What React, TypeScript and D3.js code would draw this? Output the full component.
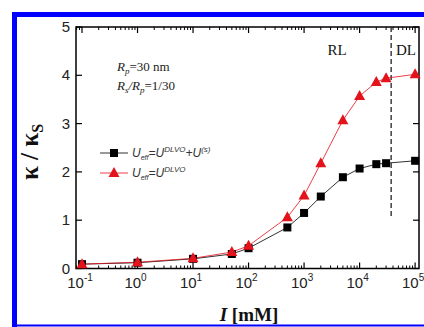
import React from "react";
import * as d3 from "d3";

const ionicStrength = [0.1, 1, 10, 50, 100, 500, 1000, 2000, 5000, 10000, 20000, 30000, 100000];
const kappaWithS = [0.09, 0.12, 0.2, 0.3, 0.42, 0.85, 1.15, 1.49, 1.89, 2.07, 2.16, 2.18, 2.23];
const kappaDLVO = [0.09, 0.13, 0.21, 0.34, 0.47, 1.06, 1.51, 2.18, 3.07, 3.57, 3.86, 3.94, 4.02];
const yTicks = [0, 1, 2, 3, 4, 5];
const xDecades = [-1, 0, 1, 2, 3, 4, 5];
const boundaryI = 37000;

const W = 424;
const H = 327;
const L = 76, R = 419, T = 27, B = 268.5;

export default function App() {
  const x = d3.scaleLog().domain([Math.pow(10, -1.108), Math.pow(10, 5.07)]).range([L, R]);
  const y = d3.scaleLinear().domain([0, 5]).range([B, T]);

  const lineGen = (vals: number[]) =>
    d3.line<number>().x((_, i) => x(ionicStrength[i])).y((v) => y(v))(vals) || "";

  const minorTicks: number[] = [];
  for (let e = -2; e <= 5; e++) {
    for (let m = 2; m <= 9; m++) {
      const v = m * Math.pow(10, e);
      if (x(v) > L + 0.5 && x(v) < R - 0.5) minorTicks.push(v);
    }
  }

  const red = "#e3121b";
  const blue = "#0000ff";

  return (
    <svg width={W} height={H} style={{ position: "absolute", left: 0, top: 0, background: "#fff" }}>
      {/* blue frame */}
      <rect x={12} y={12} width={W - 12} height={5} fill={blue} />
      <rect x={12} y={12} width={5} height={H - 12} fill={blue} />
      <rect x={12} y={324.5} width={W - 12} height={2} fill={blue} />

      {/* axes frame */}
      <rect x={L} y={T} width={R - L} height={B - T} fill="none" stroke="#000" strokeWidth={1.5} />

      {/* y ticks */}
      {yTicks.map((t) => (
        <g key={"y" + t}>
          <line x1={L} x2={L + 6} y1={y(t)} y2={y(t)} stroke="#000" strokeWidth={1.2} />
          <line x1={R} x2={R - 6} y1={y(t)} y2={y(t)} stroke="#000" strokeWidth={1.2} />
          <text x={70} y={y(t) + 5} textAnchor="end" fontFamily="Liberation Sans, Arial, sans-serif" fontSize={15} fill="#222">
            {t}
          </text>
        </g>
      ))}

      {/* x ticks */}
      {xDecades.map((e) => {
        const px = x(Math.pow(10, e));
        return (
          <g key={"x" + e}>
            <line x1={px} x2={px} y1={B} y2={B - 6} stroke="#000" strokeWidth={1.2} />
            <line x1={px} x2={px} y1={T} y2={T + 6} stroke="#000" strokeWidth={1.2} />
            <text x={px - 2} y={288} textAnchor="middle" fontFamily="Liberation Sans, Arial, sans-serif" fontSize={15} fill="#222">
              10
              <tspan fontSize={10} dy={-7}>{e}</tspan>
            </text>
          </g>
        );
      })}
      {minorTicks.map((v, i) => (
        <g key={"m" + i}>
          <line x1={x(v)} x2={x(v)} y1={B} y2={B - 3} stroke="#000" strokeWidth={1} />
          <line x1={x(v)} x2={x(v)} y1={T} y2={T + 3} stroke="#000" strokeWidth={1} />
        </g>
      ))}

      {/* boundary dashed line */}
      <line x1={x(boundaryI)} x2={x(boundaryI)} y1={T} y2={y(1.08)} stroke="#222" strokeWidth={1.3} strokeDasharray="5,3" />
      <text x={337} y={55} textAnchor="middle" fontFamily="Liberation Serif, Times New Roman, serif" fontSize={15} fill="#111">RL</text>
      <text x={396} y={55} fontFamily="Liberation Serif, Times New Roman, serif" fontSize={15} fill="#111">DL</text>

      {/* annotations */}
      <text x={117} y={71} fontFamily="Liberation Serif, Times New Roman, serif" fontSize={13} fill="#222">
        <tspan fontStyle="italic">R</tspan>
        <tspan fontStyle="italic" fontSize={9} dy={3}>p</tspan>
        <tspan dy={-3}>=30 nm</tspan>
      </text>
      <text x={117} y={90} fontFamily="Liberation Serif, Times New Roman, serif" fontSize={13} fill="#222">
        <tspan fontStyle="italic">R</tspan>
        <tspan fontStyle="italic" fontSize={9} dy={3}>s</tspan>
        <tspan fontStyle="italic" dy={-3}>/R</tspan>
        <tspan fontStyle="italic" fontSize={9} dy={3}>p</tspan>
        <tspan dy={-3}>=1/30</tspan>
      </text>

      {/* series lines */}
      <path d={lineGen(kappaWithS)} fill="none" stroke="#333" strokeWidth={1} />
      <path d={lineGen(kappaDLVO)} fill="none" stroke={red} strokeWidth={1} strokeOpacity={0.8} />

      {/* markers */}
      {kappaWithS.map((v, i) => (
        <rect key={"s" + i} x={x(ionicStrength[i]) - 4} y={y(v) - 4} width={8} height={8} fill="#000" />
      ))}
      {kappaDLVO.map((v, i) => {
        const cx = x(ionicStrength[i]);
        const cy = y(v);
        return (
          <path key={"t" + i} d={`M${cx},${cy - 6}L${cx + 5.5},${cy + 4}L${cx - 5.5},${cy + 4}Z`} fill={red} />
        );
      })}

      {/* legend */}
      <line x1={100} x2={128} y1={153} y2={153} stroke="#333" strokeWidth={1} />
      <rect x={110} y={149} width={8} height={8} fill="#000" />
      <text x={132} y={157} fontFamily="Liberation Sans, Arial, sans-serif" fontStyle="italic" fontSize={12} fill="#333">
        U<tspan fontSize={7} dy={3}>eff</tspan>
        <tspan dy={-3}>=U</tspan>
        <tspan fontSize={8} dy={-5}>DLVO</tspan>
        <tspan dy={5}>+U</tspan>
        <tspan fontSize={8} dy={-5}>(s)</tspan>
      </text>
      <line x1={100} x2={128} y1={173} y2={173} stroke={red} strokeWidth={1} strokeOpacity={0.8} />
      <path d="M114,167L119.5,177L108.5,177Z" fill={red} />
      <text x={132} y={177} fontFamily="Liberation Sans, Arial, sans-serif" fontStyle="italic" fontSize={12} fill="#333">
        U<tspan fontSize={7} dy={3}>eff</tspan>
        <tspan dy={-3}>=U</tspan>
        <tspan fontSize={8} dy={-5}>DLVO</tspan>
      </text>

      {/* axis labels */}
      <text transform="translate(38,152) rotate(-90)" textAnchor="middle" fontFamily="Liberation Serif, Times New Roman, serif" fontWeight="bold" fontSize={25} fill="#111">
        κ / κ<tspan fontSize={16} dy={5}>S</tspan>
      </text>
      <text x={249} y={321} textAnchor="middle" fontFamily="Liberation Serif, Times New Roman, serif" fontWeight="bold" fontSize={19} fill="#111">
        <tspan fontStyle="italic">I</tspan> [mM]
      </text>
    </svg>
  );
}
